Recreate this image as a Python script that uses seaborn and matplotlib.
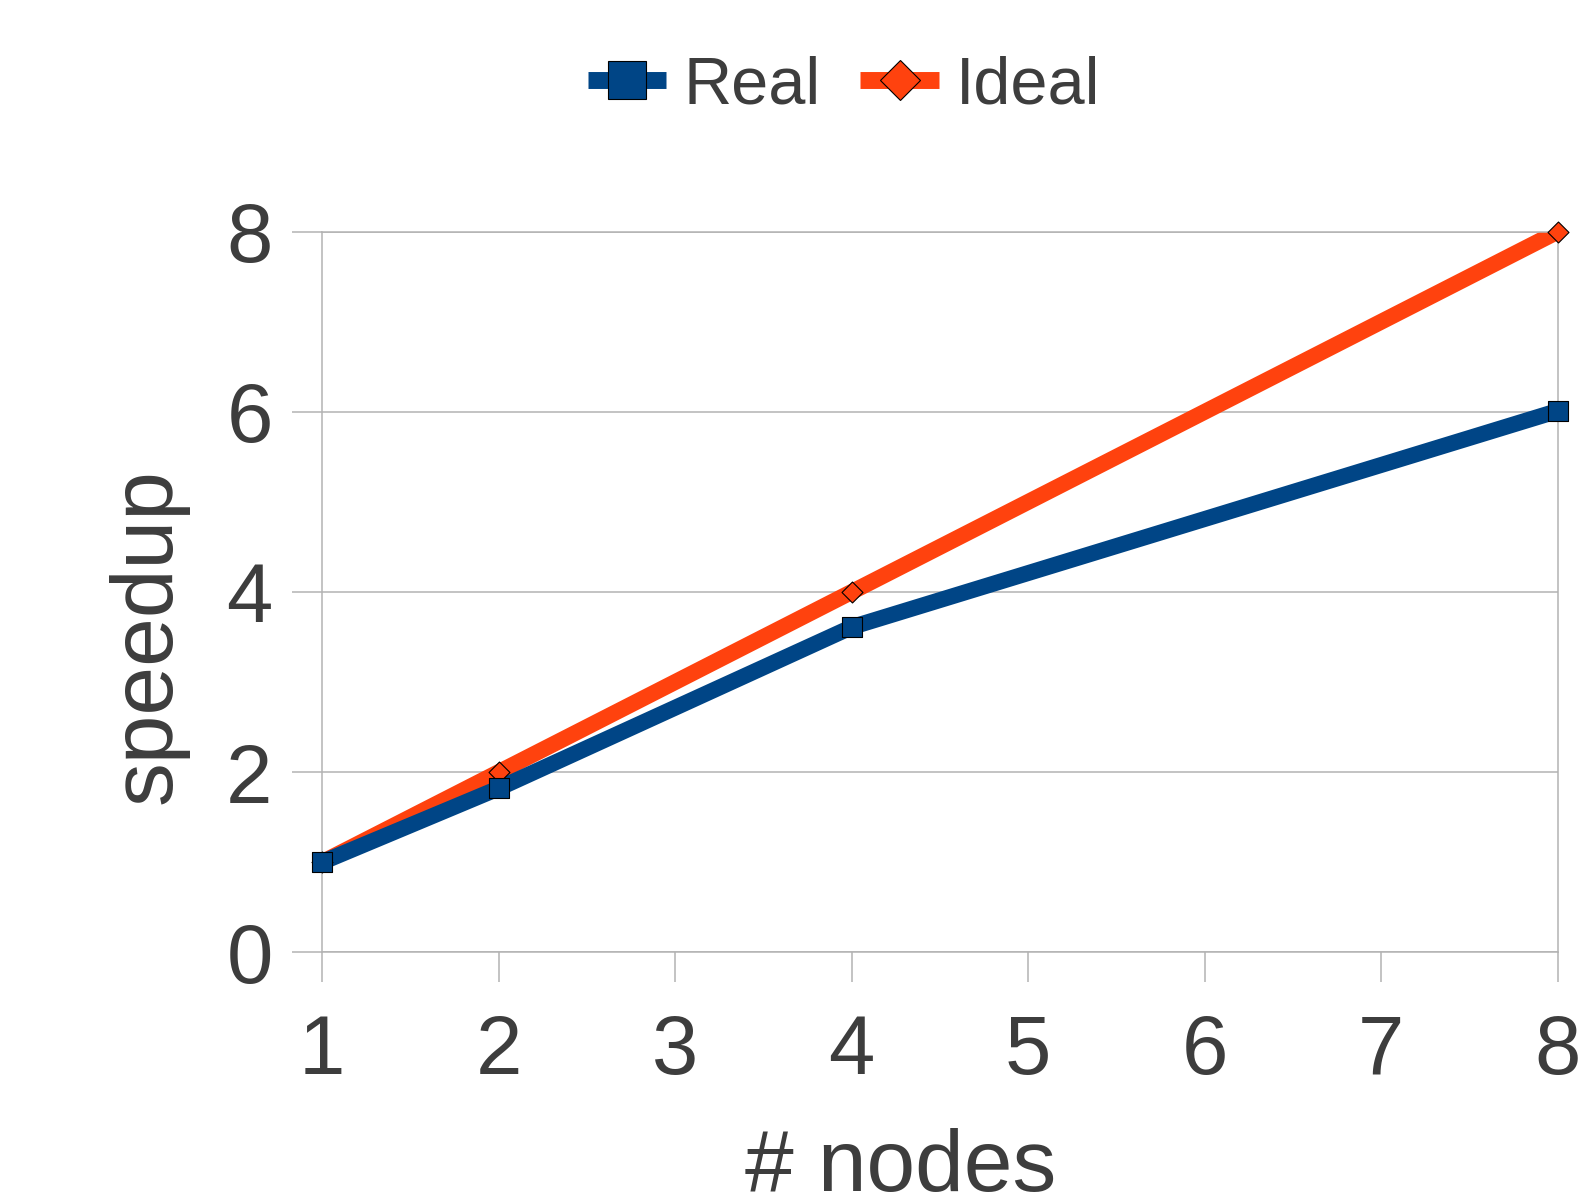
import matplotlib
matplotlib.use("Agg")
import matplotlib.pyplot as plt
import seaborn as sns
import pandas as pd
from matplotlib.lines import Line2D

# Speedup measurements against the ideal linear scaling
nodes = [1, 2, 4, 8]
real_speedup = [1.0, 1.82, 3.61, 6.01]
ideal_speedup = [1, 2, 4, 8]
series_names = ["Real", "Ideal"]
x_ticks = [1, 2, 3, 4, 5, 6, 7, 8]
y_ticks = [0, 2, 4, 6, 8]

BLUE = "#004586"
ORANGE = "#ff420e"
GRID = "#b3b3b3"
TEXT = "#3d3d3d"

df = pd.DataFrame({
    "nodes": nodes * 2,
    "speedup": real_speedup + ideal_speedup,
    "series": [series_names[0]] * len(nodes) + [series_names[1]] * len(nodes),
})

sns.set_theme(style="white")
plt.rcParams["font.family"] = ["Liberation Sans", "DejaVu Sans"]

fig = plt.figure(figsize=(15.78, 11.98), dpi=100)
ax = fig.add_axes([0.2041, 0.2051, 0.9871 - 0.2041, 0.8066 - 0.2051])

# Lines: ideal first so the measured curve sits on top
sns.lineplot(data=df, x="nodes", y="speedup", hue="series",
             hue_order=["Ideal", "Real"],
             palette={"Real": BLUE, "Ideal": ORANGE},
             linewidth=11.5, legend=False, ax=ax, solid_capstyle="butt")

# Markers
real_df = df[df["series"] == "Real"]
ideal_df = df[df["series"] == "Ideal"]
sns.scatterplot(data=ideal_df, x="nodes", y="speedup", marker="D", s=114,
                color=ORANGE, edgecolor="black", linewidth=0.8,
                zorder=5, clip_on=False, legend=False, ax=ax)
sns.scatterplot(data=real_df, x="nodes", y="speedup", marker="s", s=225,
                color=BLUE, edgecolor="black", linewidth=0.8,
                zorder=6, clip_on=False, legend=False, ax=ax)

ax.set_xlim(1, 8)
ax.set_ylim(0, 8)
ax.set_xticks(x_ticks)
ax.set_yticks(y_ticks)
ax.set_xlabel("")
ax.set_ylabel("")

ax.set_axisbelow(True)
ax.yaxis.grid(True, color=GRID, linewidth=1.1)
ax.xaxis.grid(False)
for sp in ax.spines.values():
    sp.set_color(GRID)
    sp.set_linewidth(1.1)

ax.tick_params(axis="both", which="major", direction="out", length=21.6,
               width=1.1, color=GRID, labelsize=60, labelcolor=TEXT,
               bottom=True, left=True)
ax.tick_params(axis="x", pad=22)
ax.tick_params(axis="y", pad=14)

# Axis titles
fig.text(0.0941, 0.4687, "speedup", rotation=90, ha="center", va="center",
         fontsize=63, color=TEXT)
fig.text(0.5707, 0.006, "# nodes", ha="center", va="baseline",
         fontsize=63, color=TEXT)

# Legend
handles = [
    Line2D([], [], color=BLUE, linewidth=12.2, marker="s", markersize=27,
           markerfacecolor=BLUE, markeredgecolor="black", markeredgewidth=0.8,
           solid_capstyle="butt"),
    Line2D([], [], color=ORANGE, linewidth=12.2, marker="D", markersize=20,
           markerfacecolor=ORANGE, markeredgecolor="black", markeredgewidth=0.8,
           solid_capstyle="butt"),
]
fig.legend(handles, series_names, loc="center", bbox_to_anchor=(0.535, 0.928),
           ncol=2, frameon=False, fontsize=48, handlelength=1.18,
           handletextpad=0.26, columnspacing=0.59, borderpad=0,
           labelcolor=TEXT)

fig.savefig("out.png", dpi=100)
